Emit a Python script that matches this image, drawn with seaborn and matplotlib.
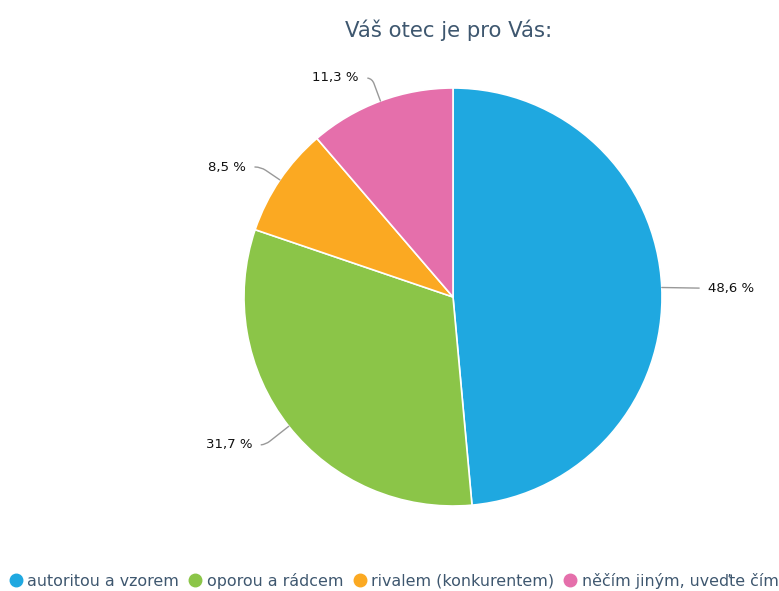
import numpy as np
import matplotlib.pyplot as plt
import seaborn as sns
from matplotlib.lines import Line2D

# data
categories = ["autoritou a vzorem", "oporou a rádcem", "rivalem (konkurentem)", "něčím jiným, uveďte čím"]
shares = [48.6, 31.7, 8.5, 11.3]
slice_colors = ["#1fa8e0", "#8bc548", "#fba922", "#e56fab"]
title = "Váš otec je pro Vás:"

# label text positions (pie radius = 1)
label_pos = [(1.22, 0.04), (-0.96, -0.708), (-0.99, 0.622), (-0.45, 1.048)]
label_ha = ["left", "right", "right", "right"]

sns.set_theme(style="white")
plt.rcParams["font.family"] = ["DejaVu Sans"]

fig = plt.figure(figsize=(7.79, 5.91), dpi=100)
# square axes so that the pie sits at (453, 297) px with radius 209 px
ax = fig.add_axes([244 / 779, 85 / 591, 418 / 779, 418 / 591])

wedges, _ = ax.pie(shares, colors=slice_colors, startangle=90, counterclock=False,
                   radius=1, wedgeprops=dict(edgecolor="white", linewidth=1.2))
ax.set_xlim(-1, 1)
ax.set_ylim(-1, 1)
ax.set_aspect("equal")
ax.axis("off")

for w, val, pos, ha in zip(wedges, shares, label_pos, label_ha):
    mid = np.deg2rad((w.theta1 + w.theta2) / 2)
    edge = (np.cos(mid), np.sin(mid))
    txt = f"{val:.1f} %".replace(".", ",")
    if abs(np.sin(mid)) < 0.2:
        conn = "arc3,rad=0"
    else:
        conn = f"angle,angleA=0,angleB={np.rad2deg(mid):.1f},rad=6"
    ax.annotate(txt, xy=edge, xytext=pos, ha=ha, va="center", fontsize=9.5,
                color="#111111", annotation_clip=False,
                arrowprops=dict(arrowstyle="-", color="#999999", lw=1,
                                shrinkA=4, shrinkB=0, connectionstyle=conn))

fig.text(449 / 779, 1 - 30 / 591, title, ha="center", va="center",
         fontsize=15.3, color="#3e576f")

handles = [Line2D([], [], marker="o", linestyle="", markersize=9,
                  markerfacecolor=c, markeredgecolor=c) for c in slice_colors]
fig.legend(handles, categories, loc="center left", bbox_to_anchor=(0.0, 1 - 581 / 591),
           ncol=4, frameon=False, fontsize=11.4, labelcolor="#3e576f",
           handletextpad=0.1, columnspacing=0.45, handlelength=1.2, borderaxespad=0)

fig.savefig("out.png", dpi=100)
